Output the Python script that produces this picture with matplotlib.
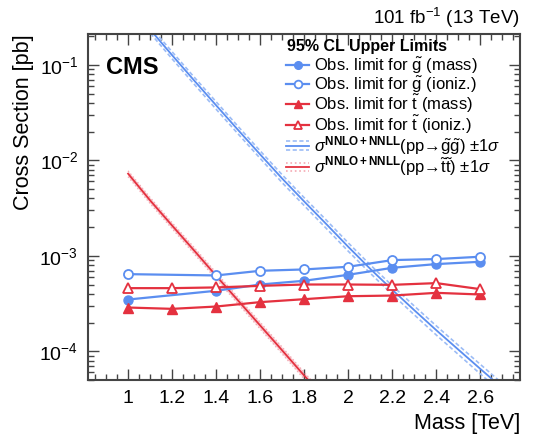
import matplotlib
matplotlib.use('Agg')
import matplotlib.pyplot as plt
from matplotlib.lines import Line2D
from matplotlib.legend_handler import HandlerBase
from matplotlib.ticker import LogLocator, MultipleLocator, NullFormatter
import numpy as np

plt.rcParams['font.family'] = ['Liberation Sans', 'DejaVu Sans']
plt.rcParams['mathtext.fontset'] = 'custom'
plt.rcParams['mathtext.rm'] = 'Liberation Sans'
plt.rcParams['mathtext.it'] = 'Liberation Sans:italic'
plt.rcParams['mathtext.bf'] = 'Liberation Sans:bold'

# ── Data ──────────────────────────────────────────────────────
mass = [1.0, 1.2, 1.4, 1.6, 1.8, 2.0, 2.2, 2.4, 2.6]  # TeV

gluino_mass_x = [1.0, 1.4, 1.6, 1.8, 2.0, 2.2, 2.4, 2.6]
gluino_mass_lim = [3.48e-4, 4.30e-4, 5.00e-4, 5.47e-4, 6.32e-4, 7.48e-4, 8.18e-4, 8.65e-4]

gluino_ion_x = [1.0, 1.4, 1.6, 1.8, 2.0, 2.2, 2.4, 2.6]
gluino_ion_lim = [6.42e-4, 6.22e-4, 6.96e-4, 7.19e-4, 7.67e-4, 9.01e-4, 9.23e-4, 9.77e-4]

stop_mass_lim = [2.87e-4, 2.78e-4, 2.94e-4, 3.27e-4, 3.51e-4, 3.77e-4, 3.83e-4, 4.09e-4, 3.93e-4]
stop_ion_lim = [4.58e-4, 4.58e-4, 4.66e-4, 4.84e-4, 5.00e-4, 5.00e-4, 4.96e-4, 5.17e-4, 4.47e-4]

# theory cross sections [pb] with relative +-1 sigma
gluino_xsec_m = [1.0, 1.1, 1.2, 1.3, 1.4, 1.5, 1.6, 1.7, 1.8,
                 1.9, 2.0, 2.1, 2.2, 2.3, 2.4, 2.5, 2.6, 2.7]
gluino_xsec = [0.42, 0.234, 0.126, 0.0685, 0.0376, 0.0207, 0.0115, 6.43e-3, 3.70e-3,
               2.15e-3, 1.24e-3, 7.29e-4, 4.40e-4, 2.69e-4, 1.66e-4, 1.04e-4, 6.53e-5, 4.12e-5]
gluino_xsec_unc = [0.08, 0.08, 0.085, 0.085, 0.09, 0.09, 0.09, 0.095, 0.095,
                   0.10, 0.10, 0.10, 0.105, 0.105, 0.11, 0.11, 0.115, 0.115]

stop_xsec_m = [1.0, 1.1, 1.2, 1.3, 1.4, 1.5, 1.6, 1.7, 1.8, 1.9]
stop_xsec = [7.24e-3, 3.80e-3, 2.07e-3, 1.135e-3, 6.17e-4, 3.39e-4, 1.86e-4, 1.02e-4, 5.56e-5, 3.09e-5]
stop_xsec_unc = [0.07, 0.07, 0.07, 0.075, 0.075, 0.075, 0.08, 0.08, 0.08, 0.085]

# ── Style ─────────────────────────────────────────────────────
BLUE = '#5b8ef0'
LIGHT_BLUE = '#9cbcf6'
RED = '#e4313f'
PINK = '#f5a9b3'
FRAME = '#444444'

fig = plt.figure(figsize=(5.39, 4.40), dpi=100)
ax = fig.add_axes([88 / 539, 1 - 380 / 440, 432 / 539, 346 / 440])

# theory bands
gm = np.array(gluino_xsec_m)
gx = np.array(gluino_xsec)
gu = np.array(gluino_xsec_unc)
ax.plot(gm, gx * (1 + gu), color=LIGHT_BLUE, lw=1.2, ls=(0, (2.5, 1.5)))
ax.plot(gm, gx * (1 - gu), color=LIGHT_BLUE, lw=1.2, ls=(0, (2.5, 1.5)))
ax.plot(gm, gx, color=BLUE, lw=1.3)

sm = np.array(stop_xsec_m)
sx = np.array(stop_xsec)
su = np.array(stop_xsec_unc)
ax.fill_between(sm, sx * (1 - su), sx * (1 + su), color=PINK, alpha=0.5, lw=0)
ax.plot(sm, sx * (1 + su), color=PINK, lw=1.0, ls=':')
ax.plot(sm, sx * (1 - su), color=PINK, lw=1.0, ls=':')
ax.plot(sm, sx, color=RED, lw=1.3)

# observed limits
ms = 6.5
ax.plot(gluino_mass_x, gluino_mass_lim, color=BLUE, lw=1.6, marker='o', ms=ms)
ax.plot(gluino_ion_x, gluino_ion_lim, color=BLUE, lw=1.6, marker='o', ms=ms,
        mfc='white', mew=1.3)
ax.plot(mass, stop_mass_lim, color=RED, lw=1.6, marker='^', ms=ms)
ax.plot(mass, stop_ion_lim, color=RED, lw=1.6, marker='^', ms=ms,
        mfc='white', mew=1.3)

# ── Axes ──────────────────────────────────────────────────────
ax.set_yscale('log')
ax.set_xlim(0.818, 2.78)
ax.set_ylim(5.0e-5, 0.21)

ax.xaxis.set_major_locator(MultipleLocator(0.2))
ax.xaxis.set_minor_locator(MultipleLocator(0.05))
ax.xaxis.set_major_formatter(plt.FuncFormatter(lambda v, p: f'{v:g}'))
ax.yaxis.set_major_locator(LogLocator(base=10))
ax.yaxis.set_minor_locator(LogLocator(base=10, subs=np.arange(2, 10)))
ax.yaxis.set_minor_formatter(NullFormatter())

ax.tick_params(which='both', direction='in', top=True, right=True, colors=FRAME,
               labelcolor='black', labelsize=14)
ax.tick_params(which='major', length=8, width=1.0, pad=7)
ax.tick_params(which='minor', length=4, width=1.0)
for sp in ax.spines.values():
    sp.set_color(FRAME)
    sp.set_linewidth(1.5)

ax.set_xlabel('Mass [TeV]', fontsize=15.5, loc='right')
ax.xaxis.set_label_coords(1.0, -0.095)
ax.set_ylabel('Cross Section [pb]', fontsize=15.5, loc='top')
ax.yaxis.set_label_coords(-0.125, 1.0)

fig.text(520 / 539, 1 - 18 / 440, r'101 fb$^{-1}$ (13 TeV)', fontsize=13.5,
         ha='right', va='center')
fig.text(106 / 539, 1 - 67 / 440, 'CMS', fontsize=17, fontweight='bold',
         ha='left', va='center')
fig.text(287 / 539, 1 - 46 / 440, '95% CL Upper Limits', fontsize=11.5,
         fontweight='bold', ha='left', va='center')


# ── Legend ────────────────────────────────────────────────────
class HandlerBand(HandlerBase):
    def __init__(self, center, outer, outer_ls):
        super().__init__()
        self.center, self.outer, self.outer_ls = center, outer, outer_ls

    def create_artists(self, legend, orig_handle, xdescent, ydescent,
                       width, height, fontsize, trans):
        y0 = height / 2 - ydescent
        x = [-xdescent, width - xdescent]
        gap = 3.0
        arts = [
            Line2D(x, [y0 + gap] * 2, color=self.outer, lw=1.2, ls=self.outer_ls),
            Line2D(x, [y0] * 2, color=self.center, lw=1.3),
            Line2D(x, [y0 - gap] * 2, color=self.outer, lw=1.2, ls=self.outer_ls),
        ]
        for a in arts:
            a.set_transform(trans)
        return arts


h_gm = Line2D([], [], color=BLUE, lw=1.6, marker='o', ms=ms)
h_gi = Line2D([], [], color=BLUE, lw=1.6, marker='o', ms=ms, mfc='white', mew=1.3)
h_sm = Line2D([], [], color=RED, lw=1.6, marker='^', ms=ms)
h_si = Line2D([], [], color=RED, lw=1.6, marker='^', ms=ms, mfc='white', mew=1.3)
h_gx = Line2D([], [], color=BLUE)
h_sx = Line2D([], [], color=RED)

labels = [
    r'Obs. limit for $\tilde{\rm g}$ (mass)',
    r'Obs. limit for $\tilde{\rm g}$ (ioniz.)',
    r'Obs. limit for $\tilde{\rm t}$ (mass)',
    r'Obs. limit for $\tilde{\rm t}$ (ioniz.)',
    r'$\sigma^{\mathbf{NNLO+NNLL}}$(pp→$\tilde{\rm g}\tilde{\rm g}$) $\pm$1$\sigma$',
    r'$\sigma^{\mathbf{NNLO+NNLL}}$(pp→$\tilde{\rm t}\tilde{\rm t}$) $\pm$1$\sigma$',
]
leg = ax.legend(
    [h_gm, h_gi, h_sm, h_si, h_gx, h_sx], labels,
    handler_map={h_gx: HandlerBand(BLUE, LIGHT_BLUE, (0, (2.5, 1.5))),
                 h_sx: HandlerBand(RED, PINK, ':')},
    loc='upper left',
    bbox_to_anchor=(286 / 539, 1 - 56 / 440), bbox_transform=fig.transFigure,
    frameon=False, fontsize=12, borderpad=0, borderaxespad=0,
    handlelength=1.4, handletextpad=0.3, labelspacing=-0.1, markerscale=0.85,
)

fig.savefig('out.png', dpi=100)
